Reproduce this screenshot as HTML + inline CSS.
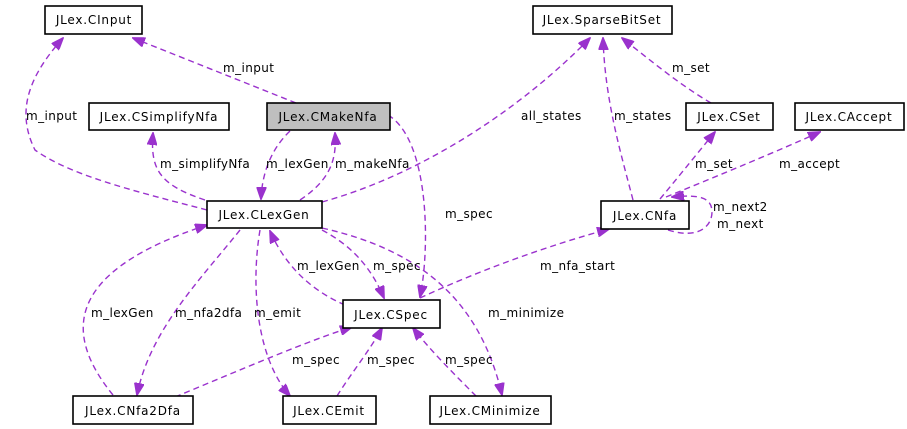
<!DOCTYPE html>
<html><head><meta charset="utf-8"><style>
html,body{margin:0;padding:0;background:#fff;}
svg{display:block;}
text{font-family:"DejaVu Sans","Liberation Sans",sans-serif;font-size:12px;letter-spacing:0.4px;fill:#000;}
text.n{letter-spacing:0.8px;}
.e{fill:none;stroke:#9a32cd;stroke-width:1.4;stroke-dasharray:6,4;}
.b{fill:#fff;stroke:#000;stroke-width:1.6;}
</style></head><body>
<svg width="907" height="429" viewBox="0 0 907 429" xmlns="http://www.w3.org/2000/svg">
<defs><marker id="a" markerWidth="13" markerHeight="10" refX="12" refY="5" orient="auto" markerUnits="userSpaceOnUse"><path d="M0,0 L13,5 L0,10 z" fill="#9a32cd" stroke="#9a32cd"/></marker></defs>
<g marker-end="url(#a)">
<path class="e" d="M296,103 L133,38"/>
<path class="e" d="M207,210 C130,190 70,175 35,150 C15,110 30,75 63,38"/>
<path class="e" d="M205,200 C160,185 150,170 153,133"/>
<path class="e" d="M290,131 C270,150 262,175 261,199"/>
<path class="e" d="M300,200 C330,180 337,160 335,133"/>
<path class="e" d="M322,202 C420,175 520,110 590,38"/>
<path class="e" d="M388,115 C430,140 430,250 420,297"/>
<path class="e" d="M633,200 C620,150 605,100 603,38"/>
<path class="e" d="M711,103 C680,85 650,60 622,38"/>
<path class="e" d="M660,199 C680,175 700,150 715,132"/>
<path class="e" d="M666,197 C720,175 780,150 820,132"/>
<path class="e" d="M668,230 C700,240 712,225 712,212 C712,198 700,194 672,197"/>
<path class="e" d="M420,298 C480,270 550,245 609,229"/>
<path class="e" d="M322,230 C350,245 370,265 384,298"/>
<path class="e" d="M345,305 C310,290 285,265 270,231"/>
<path class="e" d="M322,228 C420,250 480,300 502,395"/>
<path class="e" d="M240,230 C200,280 150,330 137,395"/>
<path class="e" d="M260,230 C250,290 258,360 290,396"/>
<path class="e" d="M113,395 C60,330 70,270 207,225"/>
<path class="e" d="M175,397 C240,370 310,340 352,327"/>
<path class="e" d="M337,396 C350,375 370,350 382,328"/>
<path class="e" d="M476,396 C455,375 430,350 413,328"/>
</g>
<rect class="b" x="45" y="6" width="97" height="28"/><text class="n" x="94" y="24" text-anchor="middle">JLex.CInput</text>
<rect class="b" x="533" y="6" width="139" height="28"/><text class="n" x="602" y="24" text-anchor="middle">JLex.SparseBitSet</text>
<rect class="b" x="89" y="103" width="140" height="27"/><text class="n" x="159" y="121" text-anchor="middle">JLex.CSimplifyNfa</text>
<rect x="267" y="103" width="123" height="27" fill="#bfbfbf" stroke="#000" stroke-width="1.6"/><text class="n" x="328" y="121" text-anchor="middle">JLex.CMakeNfa</text>
<rect class="b" x="686" y="103" width="87" height="27"/><text class="n" x="729" y="121" text-anchor="middle">JLex.CSet</text>
<rect class="b" x="795" y="103" width="109" height="27"/><text class="n" x="849" y="121" text-anchor="middle">JLex.CAccept</text>
<rect class="b" x="207" y="201" width="115" height="27"/><text class="n" x="264" y="219" text-anchor="middle">JLex.CLexGen</text>
<rect class="b" x="601" y="201" width="88" height="28"/><text class="n" x="645" y="220" text-anchor="middle">JLex.CNfa</text>
<rect class="b" x="343" y="300" width="97" height="28"/><text class="n" x="391" y="319" text-anchor="middle">JLex.CSpec</text>
<rect class="b" x="73" y="396" width="120" height="28"/><text class="n" x="133" y="415" text-anchor="middle">JLex.CNfa2Dfa</text>
<rect class="b" x="283" y="396" width="93" height="28"/><text class="n" x="329" y="415" text-anchor="middle">JLex.CEmit</text>
<rect class="b" x="430" y="396" width="121" height="28"/><text class="n" x="490" y="415" text-anchor="middle">JLex.CMinimize</text>
<text x="223" y="72">m_input</text>
<text x="26" y="120">m_input</text>
<text x="160" y="168">m_simplifyNfa</text>
<text x="266" y="168">m_lexGen</text>
<text x="335" y="168">m_makeNfa</text>
<text x="521" y="120">all_states</text>
<text x="445" y="218">m_spec</text>
<text x="614" y="120">m_states</text>
<text x="672" y="72">m_set</text>
<text x="695" y="168">m_set</text>
<text x="779" y="168">m_accept</text>
<text x="713" y="211">m_next2</text>
<text x="717" y="228">m_next</text>
<text x="540" y="270">m_nfa_start</text>
<text x="297" y="270">m_lexGen</text>
<text x="373" y="270">m_spec</text>
<text x="488" y="317">m_minimize</text>
<text x="91" y="317">m_lexGen</text>
<text x="175" y="317">m_nfa2dfa</text>
<text x="254" y="317">m_emit</text>
<text x="292" y="364">m_spec</text>
<text x="367" y="364">m_spec</text>
<text x="445" y="364">m_spec</text>
</svg>
</body></html>
